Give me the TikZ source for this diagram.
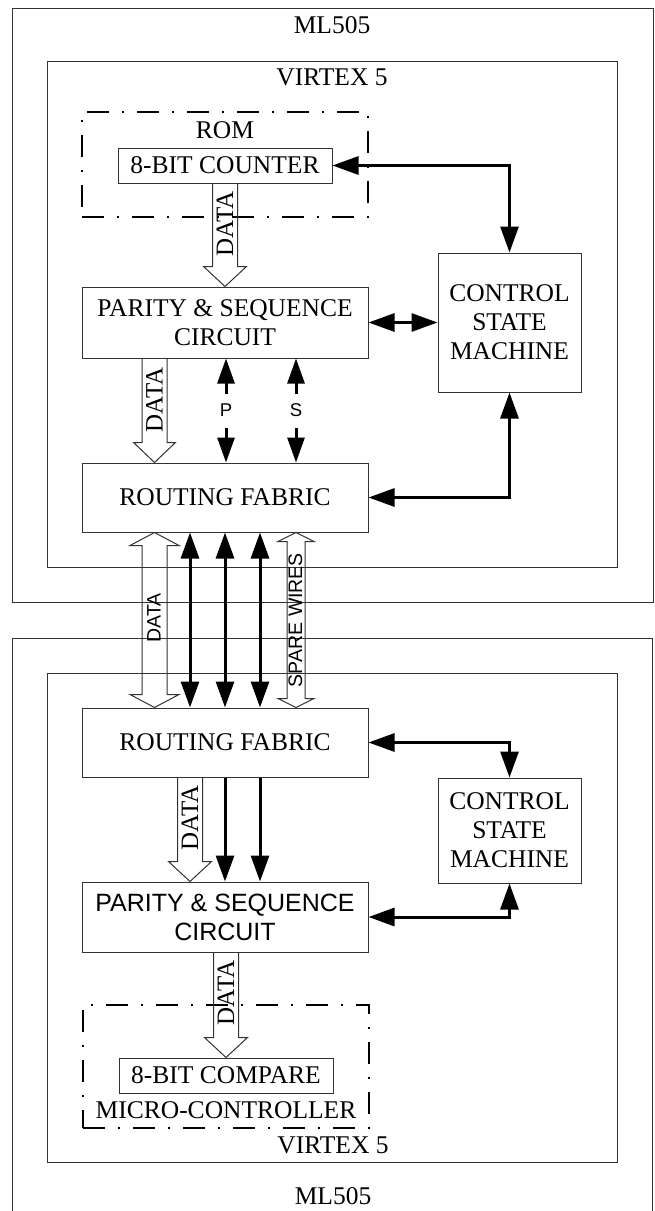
\documentclass[tikz,border=0pt]{standalone}
\usepackage{fontspec}
\setmainfont{Liberation Serif}
\setsansfont{Liberation Sans}
\usetikzlibrary{arrows.meta,calc}

\newcommand\hollowdown[5]{%
  \draw[hollow] let \p1=(#1), \p2=(#2) in
    (\x1-#3,\y1) -- (\x1-#3,\y2+#5) -- (\x1-#4,\y2+#5) -- (\x1,\y2)
    -- (\x1+#4,\y2+#5) -- (\x1+#3,\y2+#5) -- (\x1+#3,\y1);}
\newcommand\hollowboth[5]{%
  \draw[hollow] let \p1=(#1), \p2=(#2) in
    (\x1-#3,\y1-#5) -- (\x1-#4,\y1-#5) -- (\x1,\y1) -- (\x1+#4,\y1-#5)
    -- (\x1+#3,\y1-#5) -- (\x1+#3,\y2+#5) -- (\x1+#4,\y2+#5) -- (\x1,\y2)
    -- (\x1-#4,\y2+#5) -- (\x1-#3,\y2+#5) -- cycle;}

\begin{document}
\begin{tikzpicture}[x=1pt,y=-1pt,
  board/.style={draw=black!80, line width=1pt, inner sep=0pt},
  blk/.style={draw=black!80, line width=1pt, align=center, inner sep=0pt,
    font=\fontsize{25.5}{29}\selectfont},
  sblk/.style={blk, font=\sffamily\fontsize{25}{29}\selectfont},
  lbl/.style={inner sep=0pt, font=\fontsize{25.5}{29}\selectfont},
  dashdot/.style={draw=black, line width=2.6pt, inner sep=0pt,
    dash pattern=on 22pt off 13pt on 2pt off 13pt},
  dbl/.style={line width=3pt,
    {Triangle[length=26pt,width=18pt]}-{Triangle[length=26pt,width=18pt]}},
  sgl/.style={line width=3pt, -{Triangle[length=26pt,width=18pt]}},
  dblsm/.style={line width=3pt,
    {Triangle[length=25pt,width=17pt]}-{Triangle[length=25pt,width=17pt]}},
  hollow/.style={draw=black!80, line width=1pt, line join=miter},
  vserif/.style={rotate=90, inner sep=0pt, font=\fontsize{25}{28}\selectfont},
  vsans/.style={rotate=90, inner sep=0pt, font=\sffamily\fontsize{19.5}{22}\selectfont},
  plbl/.style={fill=white, inner xsep=2pt, inner ysep=0pt, minimum height=34pt,
    font=\sffamily\fontsize{18.5}{20}\selectfont}
]
\useasboundingbox (0,0) rectangle (655,1211);

% ---------- upper board ----------
\node[board, minimum width=641pt, minimum height=594pt] (ml1) at (332.5,305) {};
\node[lbl] (ml1t) at (332,25) {ML505};
\node[board, minimum width=570pt, minimum height=506pt] (vx1) at (332,314) {};
\node[lbl] (vx1t) at (332,77) {VIRTEX 5};
\node[dashdot, minimum width=286pt, minimum height=105pt] (rom) at (225,164.5) {};
\node[lbl] (romt) at (225,130) {ROM};
\node[blk, minimum width=214pt, minimum height=35pt] (cnt) at (225,165.5) {8-BIT COUNTER};
\node[blk, minimum width=286pt, minimum height=71pt] (par1) at (225,322.5) {PARITY \& SEQUENCE\\CIRCUIT};
\node[blk, minimum width=286pt, minimum height=69pt] (rf1) at (225,497.5) {ROUTING FABRIC};
\node[blk, minimum width=143pt, minimum height=139pt] (csm1) at (509.5,322.5) {CONTROL\\STATE\\MACHINE};

% ---------- lower board ----------
\node[board, minimum width=640pt, minimum height=602pt] (ml2) at (332,939) {};
\node[lbl] (ml2t) at (333,1196) {ML505};
\node[board, minimum width=570pt, minimum height=489pt] (vx2) at (332,917.5) {};
\node[lbl] (vx2t) at (333,1145) {VIRTEX 5};
\node[dashdot, minimum width=286pt, minimum height=123pt] (mc) at (226,1066.5) {};
\node[lbl] (mct) at (226,1110) {MICRO-CONTROLLER};
\node[blk, minimum width=214pt, minimum height=35pt] (cmp) at (226,1075.5) {8-BIT COMPARE};
\node[blk, minimum width=286pt, minimum height=69pt] (rf2) at (225,742.5) {ROUTING FABRIC};
\node[sblk, minimum width=286pt, minimum height=70pt] (par2) at (225,917) {PARITY \& SEQUENCE\\CIRCUIT};
\node[blk, minimum width=143pt, minimum height=105pt] (csm2) at (509.5,830.5) {CONTROL\\STATE\\MACHINE};

% ---------- hollow data arrows ----------
\hollowdown{cnt.south}{par1.north}{12.5}{21.5}{20}
\node[vserif] (d1) at (225,224) {DATA};
\hollowdown{[xshift=-70.5pt]par1.south}{[xshift=-70.5pt]rf1.north}{12.5}{21}{20}
\node[vserif] (d2) at (154.5,400) {DATA};
\hollowboth{[xshift=-70.5pt]rf1.south}{[xshift=-70.5pt]rf2.north}{12.5}{24.5}{13}
\node[vsans] (d3) at (154,618) {DATA};
\hollowboth{[xshift=71pt]rf1.south}{[xshift=71pt]rf2.north}{9}{18}{9}
\node[vsans] (sw) at (295.5,620) {SPARE WIRES};
\hollowdown{[xshift=-35pt]rf2.south}{[xshift=-35pt]par2.north}{12.5}{21.5}{20}
\node[vserif] (d4) at (190,818) {DATA};
\hollowdown{[xshift=1pt]par2.south}{cmp.north}{12.5}{21.5}{20}
\node[vserif] (d5) at (226,993) {DATA};

% ---------- solid arrows, upper ----------
\draw[dbl] (cnt.east) -| (csm1.north);
\draw[dbl] (par1.east) -- (csm1.west);
\draw[dbl] (rf1.east) -| (csm1.south);
\draw[dblsm] ([xshift=1pt]par1.south) -- node[plbl] (pl) {P} ([xshift=1pt]rf1.north);
\draw[dblsm] ([xshift=71pt]par1.south) -- node[plbl] (sl) {S} ([xshift=71pt]rf1.north);

% ---------- between boards ----------
\draw[dbl] ([xshift=-35pt]rf1.south) -- ([xshift=-35pt]rf2.north);
\draw[dbl] (rf1.south) -- (rf2.north);
\draw[dbl] ([xshift=35pt]rf1.south) -- ([xshift=35pt]rf2.north);

% ---------- solid arrows, lower ----------
\draw[sgl] (rf2.south) -- (par2.north);
\draw[sgl] ([xshift=35pt]rf2.south) -- ([xshift=35pt]par2.north);
\draw[dbl] (rf2.east) -| (csm2.north);
\draw[dbl] (par2.east) -| (csm2.south);
\end{tikzpicture}
\end{document}
